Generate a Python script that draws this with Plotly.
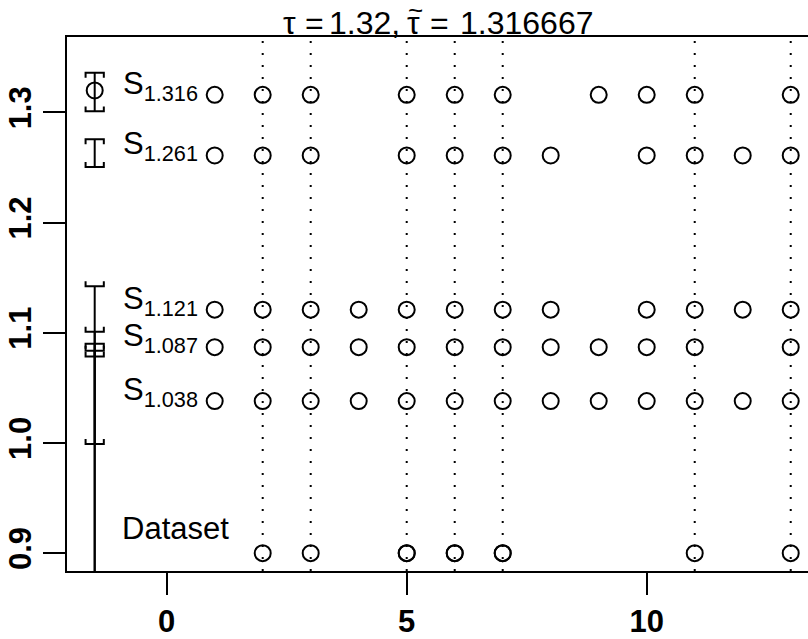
import plotly.graph_objects as go

# ---- data ----
tau = 1.32
tau_tilde = 1.316667
x_tick_vals = [0, 5, 10]
y_tick_vals = [0.9, 1.0, 1.1, 1.2, 1.3]
y_tick_text = ["0.9", "1.0", "1.1", "1.2", "1.3"]

dataset_x = [2, 3, 5, 5, 6, 6, 7, 7, 11, 13]
dataset_y = 0.9

s_levels = [1.316, 1.261, 1.121, 1.087, 1.038]
s_labels = ["1.316", "1.261", "1.121", "1.087", "1.038"]
s_members = [
    [1, 2, 3, 5, 6, 7, 9, 10, 11, 13],
    [1, 2, 3, 5, 6, 7, 8, 10, 11, 12, 13],
    [1, 2, 3, 4, 5, 6, 7, 8, 10, 11, 12, 13],
    [1, 2, 3, 4, 5, 6, 7, 8, 9, 10, 11, 13],
    [1, 2, 3, 4, 5, 6, 7, 8, 9, 10, 11, 12, 13],
]

# intervals drawn at the left
interval_x = -1.5
int_lo = [1.301, 1.2505, 1.0784, 0.9991, 0.85, 0.85]
int_hi = [1.336, 1.2757, 1.1423, 1.1009, 1.0901, 1.0838]
int_lo_closed = [True, True, True, True, True, True]
int_hi_closed = [True, True, False, False, True, False]

x_range = [-2.077, 13.36]
y_range = [0.8838, 1.3685]

FONT = "Liberation Sans, Arial, Helvetica, sans-serif"

W, H = 808, 639
ML, MR, MT, MB = 67, 0, 37, 64
PW, PH = W - ML - MR, H - MT - MB


def px_x(p):
    return (p - ML) / PW


def px_y(p):
    return (H - MB - p) / PH


fig = go.Figure()

# interval path
cap_w = 0.19
cap_t = 0.0045
xs, ys = [], []
for lo, hi, lc, hc in zip(int_lo, int_hi, int_lo_closed, int_hi_closed):
    xs += [interval_x, interval_x, None]
    ys += [lo, hi, None]
    for val, d in ((lo, 1 if lc else -1), (hi, -1 if hc else 1)):
        xs += [interval_x - cap_w, interval_x - cap_w, interval_x + cap_w, interval_x + cap_w, None]
        ys += [val + d * cap_t, val, val, val + d * cap_t, None]
fig.add_trace(go.Scatter(x=xs, y=ys, mode="lines",
                         line=dict(color="black", width=2), hoverinfo="skip"))

marker = dict(symbol="circle-open", size=16, color="black", line=dict(width=2, color="black"))
fig.add_trace(go.Scatter(x=[interval_x], y=[tau], mode="markers", marker=marker))

for lvl, mem in zip(s_levels, s_members):
    fig.add_trace(go.Scatter(x=mem, y=[lvl] * len(mem), mode="markers", marker=marker))

fig.add_trace(go.Scatter(x=dataset_x, y=[dataset_y] * len(dataset_x), mode="markers", marker=marker))

# dotted vertical lines at dataset values
for v in sorted(set(dataset_x)):
    fig.add_shape(type="line", x0=v, x1=v, y0=0, y1=1, xref="x", yref="paper",
                  line=dict(color="black", width=2, dash="2px,10px"), layer="below")

# labels
for lvl, lab in zip(s_levels, s_labels):
    fig.add_annotation(x=-0.96, y=lvl, xanchor="left", yanchor="middle",
                       text="S<sub>" + lab + "</sub>", showarrow=False,
                       font=dict(family=FONT, size=31, color="black"), yshift=9)
fig.add_annotation(x=-0.98, y=0.924, xanchor="left", yanchor="middle",
                   text="Dataset", showarrow=False,
                   font=dict(family=FONT, size=31, color="black"), yshift=-2)

# title pieces: "τ = 1.32,  τ̃ = 1.316667"
tfont = dict(family=FONT, size=32, color="black")
title_parts = [("τ", 282), ("=", 304), ("%.2f," % tau, 328),
               ("τ", 406), ("=", 429), ("%.6f" % tau_tilde, 459)]
for txt, p in title_parts:
    fig.add_annotation(x=px_x(p), y=1, xref="paper", yref="paper", xanchor="left", yanchor="bottom",
                       text=txt, showarrow=False, font=tfont, yshift=-5, borderpad=0)
fig.add_annotation(x=px_x(415), y=px_y(10), xref="paper", yref="paper", xanchor="center", yanchor="middle",
                   text="~", showarrow=False, font=dict(family=FONT, size=26, color="black"),
                   borderpad=0, height=14, valign="middle")

fig.update_layout(
    width=W, height=H,
    margin=dict(l=ML, r=MR, t=MT, b=MB),
    plot_bgcolor="white", paper_bgcolor="white",
    showlegend=False,
    xaxis=dict(range=x_range, tickvals=x_tick_vals, ticktext=[str(v) for v in x_tick_vals],
               showgrid=False, zeroline=False, showline=True, mirror=True,
               linecolor="black", linewidth=2, ticks="outside", ticklen=22, tickwidth=2,
               tickcolor="black",
               tickfont=dict(family=FONT, size=31, color="black", weight="bold")),
    yaxis=dict(range=y_range, tickvals=y_tick_vals, ticktext=y_tick_text,
               showgrid=False, zeroline=False, showline=True, mirror=False,
               linecolor="black", linewidth=2, ticks="outside", ticklen=22, tickwidth=2,
               tickcolor="black", tickangle=-90,
               tickfont=dict(family=FONT, size=31, color="black", weight="bold")),
)

fig.write_html("out.html")
